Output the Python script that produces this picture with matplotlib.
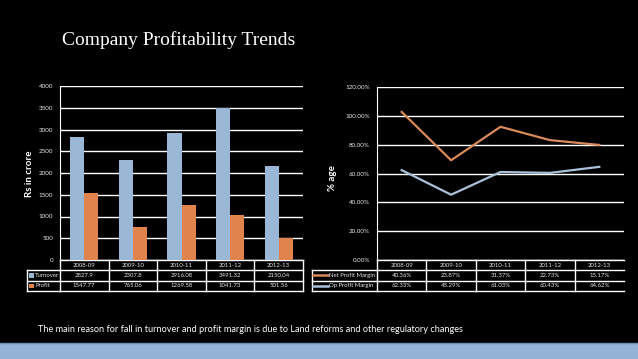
import numpy as np
import matplotlib
matplotlib.use("Agg")
from matplotlib import pyplot as plt
from matplotlib import transforms as mtransforms
from matplotlib.lines import Line2D
from matplotlib.patches import Rectangle


years = ["2008-09", "2009-10", "2010-11", "2011-12", "2012-13"]
turnover = [2827.9, 2307.8, 2916.08, 3491.32, 2150.04]
profit = [1547.77, 765.06, 1269.58, 1041.73, 501.56]
turnover_txt = ["2827.9", "2307.8", "2916.08", "3491.32", "2150.04"]
profit_txt = ["1547.77", "765.06", "1269.58", "1041.73", "501.56"]

net_margin = [40.36, 23.87, 31.37, 22.73, 15.17]
op_margin = [62.33, 45.29, 61.03, 60.43, 64.62]

blue = "#9BB7D6"
orange = "#E0834C"
line_orange = "#D98A5A"
line_blue = "#A9C1DA"
txt = "#E6E6E6"
ROW_H = 0.0595

plt.rcParams['font.family'] = ['Lato', 'DejaVu Sans']

fig = plt.figure(figsize=(6.38, 3.59), dpi=100, facecolor="black")


def draw_table(ax, names, cells, keys, label_x0, right_border):
    trans = mtransforms.blended_transform_factory(ax.transData, ax.transAxes)
    n = len(years)
    lw = 1.0

    def seg(xs, ys):
        ax.add_line(Line2D(xs, ys, transform=trans, clip_on=False,
                           color="white", lw=lw))

    # horizontal rules
    seg([-0.5, n - 0.5], [0, 0])
    for k in range(1, 4):
        seg([label_x0, n - 0.5], [-k * ROW_H, -k * ROW_H])
    # vertical rules
    for i in range(n + 1):
        if i == n and not right_border:
            continue
        seg([i - 0.5, i - 0.5], [0, -3 * ROW_H])
    seg([label_x0, label_x0], [-ROW_H, -3 * ROW_H])

    for i, y in enumerate(years):
        ax.text(i, -0.5 * ROW_H, y, transform=trans, ha="center", va="center",
                fontsize=4.3, color=txt)
    for r, (name, vals, key) in enumerate(zip(names, cells, keys)):
        yc = -(r + 1.5) * ROW_H
        for i, v in enumerate(vals):
            ax.text(i, yc, v, transform=trans, ha="center", va="center",
                    fontsize=4.3, color=txt)
        kind, col = key
        if kind == "box":
            ax.add_patch(Rectangle((label_x0 + 0.05, yc - 0.012), 0.09, 0.024,
                                   transform=trans, clip_on=False,
                                   facecolor=col, edgecolor="none"))
            tx = label_x0 + 0.17
        else:
            seg_x = [label_x0 + 0.03, label_x0 + 0.33]
            ax.add_line(Line2D(seg_x, [yc, yc], transform=trans, clip_on=False,
                               color=col, lw=1.8))
            tx = label_x0 + 0.35
        ax.text(tx, yc, name, transform=trans, ha="left", va="center",
                fontsize=4.3, color=txt)


# ---- left: turnover / profit bars
ax1 = fig.add_axes([60 / 638, 99 / 359, 243 / 638, 174 / 359])
ax1.set_facecolor("black")
x = np.arange(len(years))
w = 0.29
ax1.bar(x - w / 2, turnover, w, color=blue, zorder=3)
ax1.bar(x + w / 2, profit, w, color=orange, zorder=3)
ax1.set_xlim(-0.5, len(years) - 0.5)
ax1.set_ylim(0, 4000)
ax1.set_yticks(np.arange(0, 4001, 500))
ax1.set_xticks([])
ax1.yaxis.grid(True, color="white", lw=1)
ax1.tick_params(axis="y", length=0, labelsize=4.5, labelcolor=txt, pad=5)
for s in ["top", "right", "bottom"]:
    ax1.spines[s].set_visible(False)
ax1.spines["left"].set_color("white")
draw_table(ax1, ["Turnover", "Profit"], [turnover_txt, profit_txt],
           [("box", blue), ("box", orange)], -1.18, True)
fig.text(30 / 638, 0.515, "Rs in crore", rotation=90, ha="center", va="center",
         fontsize=7, fontweight="bold", color="white")

# ---- right: stacked margins
ax2 = fig.add_axes([377 / 638, 99 / 359, 247 / 638, 173 / 359])
ax2.set_facecolor("black")
stack_op = np.array(op_margin)
stack_net = stack_op + np.array(net_margin)
ax2.plot(x, stack_op, color=line_blue, lw=1.6, zorder=3)
ax2.plot(x, stack_net, color=line_orange, lw=1.6, zorder=3)
ax2.set_xlim(-0.5, len(years) - 0.5)
ax2.set_ylim(0, 120)
ax2.set_yticks(np.arange(0, 121, 20))
ax2.set_yticklabels(["%.2f%%" % v for v in np.arange(0, 121, 20)])
ax2.set_xticks([])
ax2.yaxis.grid(True, color="white", lw=1)
ax2.tick_params(axis="y", length=0, labelsize=4.5, labelcolor=txt, pad=5)
for s in ["top", "right", "bottom"]:
    ax2.spines[s].set_visible(False)
ax2.spines["left"].set_color("white")
draw_table(ax2, ["Net Profit Margin", "Op Profit Margin"],
           [["%.2f%%" % v for v in net_margin], ["%.2f%%" % v for v in op_margin]],
           [("line", line_orange), ("line", line_blue)], -1.82, False)
fig.text(332 / 638, 0.503, "% age", rotation=90, ha="center", va="center",
         fontsize=7, fontweight="bold", color="white")

# ---- title, footer, bottom band
fig.text(62 / 638, 1 - 40 / 359, "Company Profitability Trends", ha="left",
         va="center", fontsize=14, color="white", family="Liberation Serif")
fig.text(38 / 638, 1 - 329 / 359,
         "The main reason for fall in turnover and profit margin is due to "
         "Land reforms and other regulatory changes",
         ha="left", va="center", fontsize=6.6, color="white")
fig.add_artist(Rectangle((0, 0), 1, 16 / 359, transform=fig.transFigure,
                         facecolor="#95B3D7", edgecolor="none"))
fig.add_artist(Line2D([0, 1], [16 / 359, 16 / 359], transform=fig.transFigure,
                      color="#6F8FAF", lw=1))

fig.savefig("out.png", dpi=100, facecolor="black")
